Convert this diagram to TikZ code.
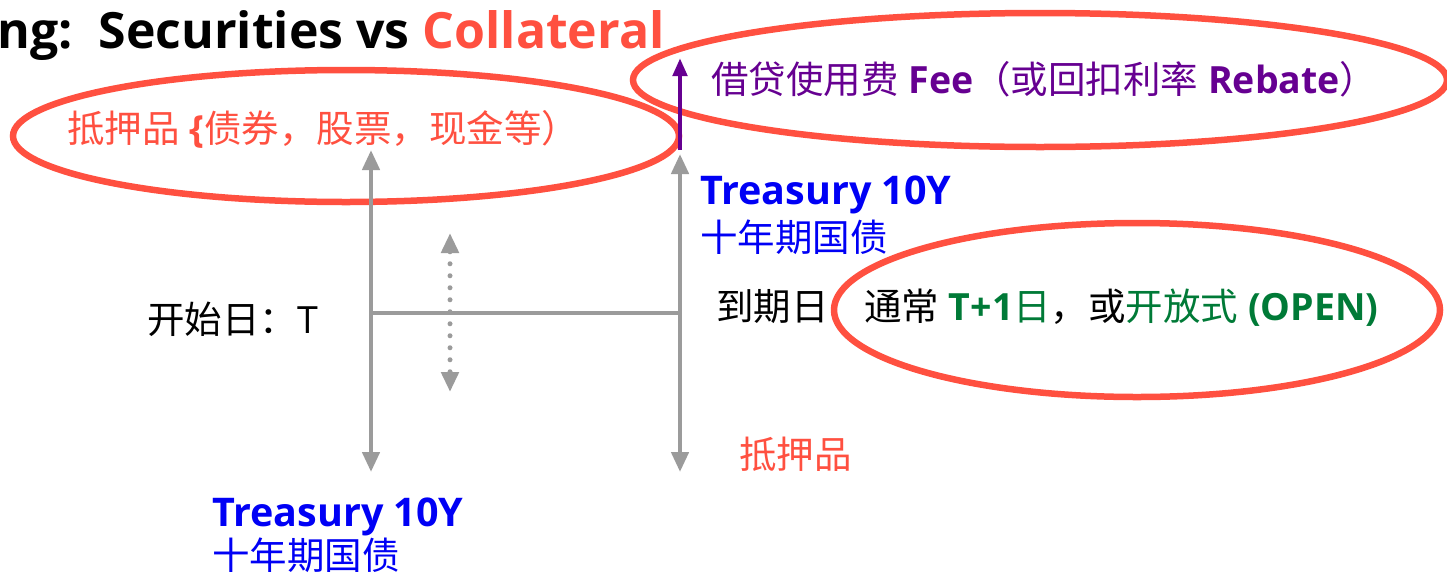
\documentclass[tikz,border=0pt]{standalone}
\usepackage{fontspec}
\setmainfont{Open Sans}
\newfontfamily\cjkfont{Noto Sans CJK SC}
\newcommand\zhs[1]{{\cjkfont #1}}
\usetikzlibrary{arrows.meta}
\definecolor{ringred}{RGB}{255,80,64}
\definecolor{txtblue}{RGB}{0,0,245}
\definecolor{txtpurple}{RGB}{102,0,145}
\definecolor{txtgreen}{RGB}{0,122,55}
\definecolor{linegray}{RGB}{155,155,155}
\tikzset{
  ring/.style={draw=ringred,line width=6.5pt},
  grayline/.style={draw=linegray,line width=4.5pt},
  grayarrow/.style={grayline,{Triangle[width=17pt,length=20pt]}-{Triangle[width=17pt,length=20pt]}},
  dotarrow/.style={draw=linegray,line width=5pt,dash pattern=on 0pt off 12pt,line cap=round,{Triangle[width=17pt,length=20pt]}-{Triangle[width=17pt,length=20pt]}},
  purplearrow/.style={draw=txtpurple,line width=4.5pt,-{Triangle[width=14pt,length=18pt]}},
  lbl/.style={inner sep=0pt,anchor=base west,font=\fontsize{37.5pt}{44pt}\selectfont},
  title/.style={inner sep=0pt,anchor=base west,font=\fontsize{50pt}{58pt}\selectfont\bfseries},
  tsy/.style={inner sep=0pt,anchor=base west,text=txtblue,font=\fontsize{39.5pt}{46pt}\selectfont\bfseries},
}
\begin{document}
\begin{tikzpicture}[x=1pt,y=-1pt]
\useasboundingbox (0,0) rectangle (1447,576);
% title
\node[title] (title) at (-3,48) {ng:\ \ Securities vs \textcolor{ringred}{Collateral}};
% rings
\draw[ring] (346,136) ellipse [x radius=333, y radius=66];
\draw[ring] (1040,80) ellipse [x radius=407, y radius=67];
\draw[ring] (1137,310) ellipse [x radius=303, y radius=87];
% coordinates
\coordinate (Ltop) at (371,150);
\coordinate (Lbot) at (371,472);
\coordinate (Rtop) at (680,154);
\coordinate (Rbot) at (680,472);
\coordinate (Lmid) at (371,313);
\coordinate (Rmid) at (680,313);
\coordinate (Dtop) at (450,233);
\coordinate (Dbot) at (450,392);
\coordinate (Pbot) at (680,150);
\coordinate (Ptop) at (680,58);
% connectors
\draw[grayarrow] (Ltop) -- (Lbot);
\draw[grayarrow] (Rtop) -- (Rbot);
\draw[grayline] (Lmid) -- (Rmid);
\draw[dotarrow] (Dtop) -- (Dbot);
\draw[purplearrow] (Pbot) -- (Ptop);
% labels
\node[lbl,text=ringred] (coll) at (67,142) {\zhs{抵押品} \textbf{\{}\zhs{债券，股票，现金等）}};
\node[lbl,text=txtpurple] (fee) at (711,93) {\zhs{借贷使用费} \textbf{Fee}\zhs{（或回扣利率} \textbf{Rebate}\zhs{）}};
\node[tsy] (tr1) at (700,204) {Treasury 10Y};
\node[lbl,text=txtblue] (tr1zh) at (700,251) {\zhs{十年期国债}};
\node[lbl] (start) at (147,333) {\zhs{开始日：}T};
\node[lbl] (mat) at (716,320) {\zhs{到期日}};
\node[lbl] (open) at (864,320) {\zhs{通常} \textcolor{txtgreen}{\textbf{T+1}\zhs{日}}\zhs{，或}\textcolor{txtgreen}{\zhs{开放式} \textbf{(OPEN)}}};
\node[lbl,text=ringred] (coll2) at (739,468) {\zhs{抵押品}};
\node[tsy] (tr2) at (212,526) {Treasury 10Y};
\node[lbl,text=txtblue] (tr2zh) at (212,569) {\zhs{十年期国债}};
\end{tikzpicture}
\end{document}
